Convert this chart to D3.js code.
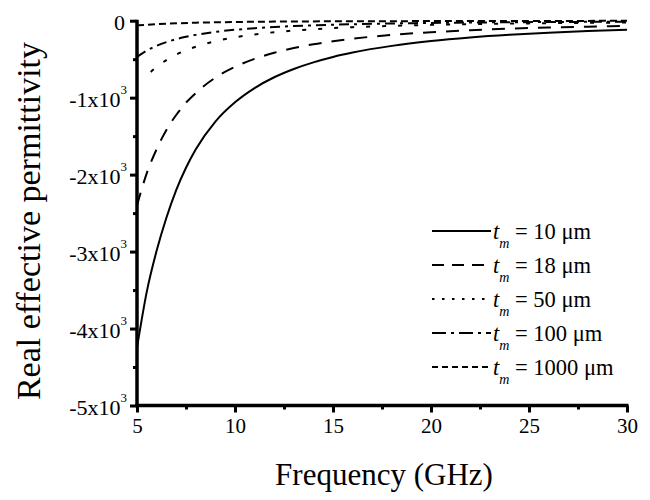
<!DOCTYPE html>
<html><head><meta charset="utf-8">
<script src="https://cdn.jsdelivr.net/npm/d3@7"></script>
<style>body{margin:0;background:#fff}text{font-family:"Liberation Serif","Times New Roman",serif;fill:#000}</style>
</head><body><svg id="c" width="650" height="500"></svg>
<script>
const freqA = [5,5.5,6,6.5,7,7.5,8,9,10,11,12,13,14,15,16,18,20,22,24,26,28,30];
const t10 = [-4250,-3520,-2990,-2560,-2200,-1910,-1670,-1310,-1060,-875,-735,-627,-541,-471,-414,-327,-265,-219,-184,-157,-135,-118];
const t18 = [-2400,-1980,-1670,-1420,-1225,-1065,-940,-740,-600,-496,-417,-355,-306,-267,-234,-185,-150,-124,-104,-89,-77,-67];
const freqB = [5.7,6,6.5,7,7.5,8,9,10,11,12,13,14,15,16,18,20,22,24,26,28,30];
const t50 = [-665,-600,-511,-441,-384,-338,-267,-216,-178,-150,-128,-110,-96,-84,-67,-54,-45,-38,-32,-28,-24];
const t100 = [-470,-388,-326,-278,-240,-209,-184,-145,-118,-97,-82,-70,-60,-52,-46,-36,-29,-24,-20,-17,-15,-13];
const freqC = [5,6,7,8,10,12,15,20,25,30];
const t1000 = [-62,-45,-34,-26,-17,-12,-8,-5,-3,-2];
const legendLabels = ["10","18","50","100","1000"];
const xTicks = [5,10,15,20,25,30];
const yTicks = [0,-1000,-2000,-3000,-4000,-5000];

const series = [
  {x:freqA, y:t10, dash:null, ldash:null},
  {x:freqA, y:t18, dash:"13,10", ldash:"12,8"},
  {x:freqB, y:t50, dash:"4,12", ldash:"2.5,7.5"},
  {x:freqA, y:t100, dash:"10,5,3,5", ldash:"14,5,3,5"},
  {x:freqC, y:t1000, dash:"7,4", ldash:"6,4"}
];

const svg = d3.select("#c");
const L=137, R=627, T=20.7, B=405.5;
const x = d3.scaleLinear().domain([5,30]).range([L,R]);
const y = d3.scaleLinear().domain([-5000,0]).range([B,T]);

const line = d3.line().x(d=>x(d[0])).y(d=>y(d[1])).curve(d3.curveMonotoneX);
series.forEach(s=>{
  svg.append("path").datum(s.x.map((f,i)=>[f,s.y[i]]))
    .attr("d",line).attr("fill","none").attr("stroke","#000").attr("stroke-width",2)
    .attr("stroke-dasharray",s.dash);
});

// axes
const xAxis = svg.append("g").attr("transform",`translate(0,${B})`)
  .call(d3.axisBottom(x).tickValues(xTicks).tickSize(7).tickPadding(4).tickFormat(d3.format("d")));
const xMinor = svg.append("g").attr("transform",`translate(0,${B})`)
  .call(d3.axisBottom(x).tickValues([7.5,12.5,17.5,22.5,27.5]).tickSize(4).tickFormat(""));
const yAxis = svg.append("g").attr("transform",`translate(${L},0)`)
  .call(d3.axisLeft(y).tickValues(yTicks).tickSize(7).tickPadding(4).tickFormat(""));
const yMinor = svg.append("g").attr("transform",`translate(${L},0)`)
  .call(d3.axisLeft(y).tickValues([-500,-1500,-2500,-3500,-4500]).tickSize(4).tickFormat(""));
[xAxis,xMinor,yAxis,yMinor].forEach(g=>{
  g.select(".domain").attr("stroke","#000").attr("stroke-width",3.5);
  g.selectAll(".tick line").attr("stroke","#000").attr("stroke-width",3);
});
xMinor.select(".domain").remove(); yMinor.select(".domain").remove();
xAxis.selectAll(".domain").attr("d",`M${L-1.5},0H${R+1.5}`);
yAxis.selectAll(".domain").attr("d",`M0,${T-1}V${B+1.5}`);
xAxis.selectAll(".tick text").attr("font-size",21).attr("font-family","Liberation Serif")
  .attr("y",0).attr("dy",0).attr("transform","translate(0,27.5)");

// y tick labels with superscript
yTicks.forEach(v=>{
  const t = svg.append("text").attr("x",L-10).attr("y",y(v)+9.5).attr("text-anchor","end")
    .attr("font-size",22);
  if(v===0){ t.attr("x",L-12).text("0"); }
  else {
    t.append("tspan").text(`${v/1000}x10`);
    t.append("tspan").attr("font-size",13).attr("dy",-13).text("3");
  }
});

// titles
svg.append("text").attr("x",384).attr("y",485).attr("text-anchor","middle")
  .attr("font-size",31).text("Frequency (GHz)");
svg.append("text").attr("transform","translate(40,221) rotate(-90)").attr("text-anchor","middle")
  .attr("font-size",34).text("Real effective permittivity");

// legend
const ly0=231, ldy=34;
series.forEach((s,i)=>{
  const yy = ly0+i*ldy;
  svg.append("line").attr("x1",432).attr("x2",491).attr("y1",yy).attr("y2",yy)
    .attr("stroke","#000").attr("stroke-width",2).attr("stroke-dasharray",s.ldash);
  const t = svg.append("text").attr("x",493).attr("y",yy+7.5).attr("font-size",22.5);
  t.append("tspan").attr("font-style","italic").text("t");
  t.append("tspan").attr("font-style","italic").attr("font-size",14).attr("dy",9).text("m");
  t.append("tspan").attr("dy",-9).text(` = ${legendLabels[i]} \u03bcm`);
});
</script></body></html>
